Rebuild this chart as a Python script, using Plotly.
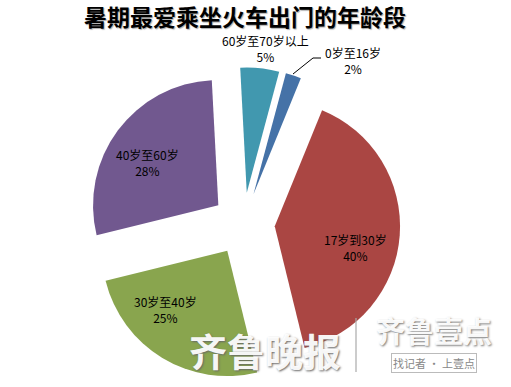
import plotly.graph_objects as go

W, H = 511, 387

title = "暑期最爱乘坐火车出门的年龄段"
labels = ["60岁至70岁以上", "0岁至16岁", "17岁到30岁", "30岁至40岁", "40岁至60岁"]
values = [5, 2, 40, 25, 28]
colors = ["#4198AF", "#4572A7", "#AA4643", "#89A54E", "#71588F"]
# label centres (pixels)
label_x = [265, 353, 355, 165, 147]
label_y = [49, 60, 248, 309, 163]

def px(x):
    return x / W

def py(y):
    return 1 - y / H

FONT = "Noto Sans CJK SC"

fig = go.Figure(go.Pie(
    labels=labels,
    values=values,
    sort=False,
    direction="clockwise",
    rotation=-3,
    pull=[0.25] * len(values),
    marker=dict(colors=colors, line=dict(width=0)),
    textinfo="none",
    hoverinfo="label+percent",
    domain=dict(x=[0.1265, 0.8265], y=[0.0165, 0.826]),
    showlegend=False,
))

annotations = [
    dict(text=f"<b>{title}</b>", x=px(245), y=py(16), xref="paper", yref="paper",
         xanchor="center", yanchor="middle", showarrow=False, borderpad=0,
         font=dict(family=FONT, size=23, color="black", shadow="1px 1px 1px #aaa")),
]
for lab, v, lx, ly in zip(labels, values, label_x, label_y):
    annotations.append(dict(text=f"{lab}<br>{v}%", x=px(lx), y=py(ly), xref="paper", yref="paper",
                            xanchor="center", yanchor="middle", showarrow=False, borderpad=0,
                            font=dict(family=FONT, size=12, color="black"), align="center"))

# watermark
annotations += [
    dict(text="齐鲁晚报", x=px(265), y=py(349), xref="paper", yref="paper", showarrow=False,
         xanchor="center", yanchor="middle",
         font=dict(family=FONT, size=38, color="rgba(255,255,255,0.95)", weight=700,
                   shadow="1px 1px 2px #666")),
    dict(text="齐鲁壹点", x=px(434), y=py(330), xref="paper", yref="paper", showarrow=False,
         xanchor="center", yanchor="middle",
         font=dict(family=FONT, size=29, color="rgba(255,255,255,0.95)", weight=700,
                   shadow="1px 1px 2px #777")),
    dict(text="找记者 · 上壹点", x=px(434), y=py(363), xref="paper", yref="paper", showarrow=False,
         xanchor="center", yanchor="middle",
         font=dict(family=FONT, size=11, color="#888"), bordercolor="#bbb", borderwidth=1,
         bgcolor="rgba(255,255,255,0.9)", borderpad=1),
]

shapes = [
    dict(type="path", xref="paper", yref="paper",
         path=f"M {px(293)} {py(74)} L {px(313)} {py(58)} L {px(321)} {py(58)}",
         line=dict(color="black", width=1)),
    dict(type="line", xref="paper", yref="paper", x0=px(356), x1=px(356), y0=py(318), y1=py(372),
         line=dict(color="rgba(170,170,170,0.8)", width=1.5)),
]

fig.update_layout(
    width=W, height=H,
    margin=dict(l=0, r=0, t=0, b=0),
    paper_bgcolor="white",
    plot_bgcolor="white",
    annotations=annotations,
    shapes=shapes,
)

fig.write_html("out.html", config={"displayModeBar": False},
               post_script="document.body.style.margin='0';")
